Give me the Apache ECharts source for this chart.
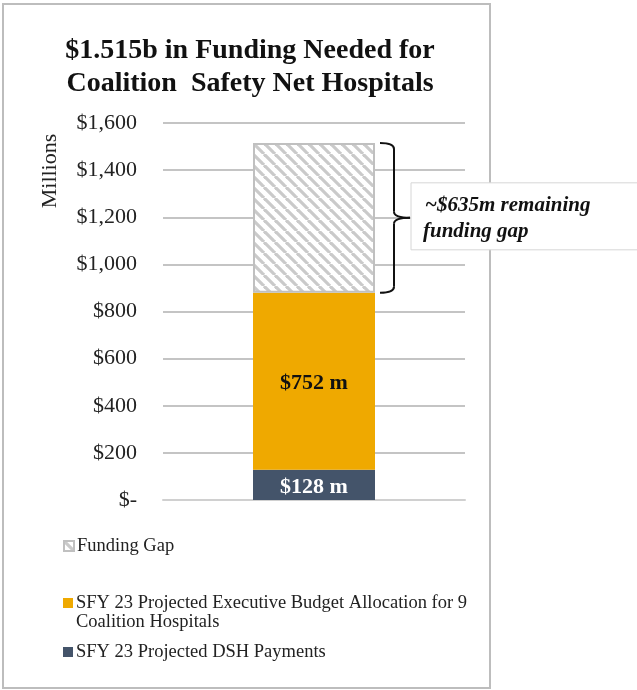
<!DOCTYPE html>
<html><head><meta charset="utf-8">
<script src="https://cdn.jsdelivr.net/npm/echarts@6/dist/echarts.min.js"></script>
<style>html,body{margin:0;padding:0;background:#fff}#c{width:637px;height:690px}</style>
</head><body><div id="c"></div>
<script>
const categories = ['Total'];
const dshValues = [128];
const execValues = [752];
const gapValues = [635];
const yTicks = [0, 200, 400, 600, 800, 1000, 1200, 1400, 1600];
const seriesNames = ['SFY 23 Projected DSH Payments', 'SFY 23 Projected Executive Budget Allocation for 9', 'Funding Gap'];
const execNameLine2 = 'Coalition Hospitals';
const annotationLines = ['~$635m remaining', 'funding gap'];
const titleText = '$1.515b in Funding Needed for\nCoalition  Safety Net Hospitals';

const SERIF = '"Liberation Serif", "Times New Roman", serif';

// hatch pattern
const pc = document.createElement('canvas');
const s = 11; pc.width = s; pc.height = s;
const pctx = pc.getContext('2d');
pctx.fillStyle = '#ffffff'; pctx.fillRect(0, 0, s, s);
pctx.strokeStyle = '#cacaca'; pctx.lineWidth = 3.2;
for (let k = -1; k <= 1; k++) { pctx.beginPath(); pctx.moveTo(k * s, 0); pctx.lineTo(k * s + s, s); pctx.stroke(); }
const hatch = { image: pc, repeat: 'repeat' };

const chart = echarts.init(document.getElementById('c'), null, { renderer: 'canvas' });
const legendBase = { orient: 'vertical', left: 58, itemWidth: 10, itemHeight: 10, itemGap: 0, icon: 'rect',
  textStyle: { fontFamily: SERIF, fontSize: 18.5, color: '#222', lineHeight: 20, padding: [0, 0, 0, -2] } };

chart.setOption({
  animation: false,
  backgroundColor: '#fff',
  title: { text: titleText, left: 245, textAlign: 'center', top: 29,
    textStyle: { fontFamily: SERIF, fontWeight: 'bold', fontSize: 28, lineHeight: 33, color: '#111' } },
  legend: [
    Object.assign({}, legendBase, { top: 531, data: [seriesNames[2]] }),
    Object.assign({}, legendBase, { top: 588, data: [seriesNames[1]] }),
    Object.assign({}, legendBase, { top: 637, data: [seriesNames[0]] })
  ],
  grid: { left: 163, right: 172, top: 123, bottom: 190 },
  xAxis: { type: 'category', data: categories, axisLabel: { show: false }, axisTick: { show: false },
    axisLine: { show: true, lineStyle: { color: '#d0d0d0', width: 2 } } },
  yAxis: { type: 'value', min: yTicks[0], max: yTicks[yTicks.length - 1], interval: 200,
    axisLine: { show: false }, axisTick: { show: false },
    axisLabel: { margin: 26, fontFamily: SERIF, fontSize: 22, color: '#222',
      formatter: v => v === 0 ? '$-' : '$' + v.toLocaleString('en-US') },
    splitLine: { lineStyle: { color: '#c4c4c4', width: 2 } } },
  series: [
    { name: seriesNames[0], type: 'bar', stack: 't', data: dshValues, barWidth: 122,
      itemStyle: { color: '#44546A' },
      label: { show: true, position: 'inside', formatter: p => '$' + p.value + ' m', color: '#fff',
        fontFamily: SERIF, fontWeight: 'bold', fontSize: 22, offset: [0, 2] } },
    { name: seriesNames[1], type: 'bar', stack: 't', data: execValues, barWidth: 122,
      itemStyle: { color: '#EFA900' },
      label: { show: true, position: 'inside', formatter: p => '$' + p.value + ' m', color: '#111',
        fontFamily: SERIF, fontWeight: 'bold', fontSize: 22, offset: [0, 2] } },
    { name: seriesNames[2], type: 'bar', stack: 't', data: gapValues, barWidth: 122,
      itemStyle: { color: hatch, borderColor: '#c0c0c0', borderWidth: 2 } }
  ]
});

const total = dshValues[0] + execValues[0] + gapValues[0];
const base = dshValues[0] + execValues[0];
const yTop = chart.convertToPixel({ yAxisIndex: 0 }, total);
const yBot = chart.convertToPixel({ yAxisIndex: 0 }, base);
const xc = chart.convertToPixel({ xAxisIndex: 0 }, categories[0]);
const x0 = xc + 66, x1 = xc + 80, x2 = xc + 96;
const ym = (yTop + yBot) / 2;
const r = 6;
const braceStyle = { fill: 'none', stroke: '#111', lineWidth: 2 };
const braceParts = [
  { type: 'bezierCurve', shape: { x1: x0, y1: yTop, cpx1: x1, cpy1: yTop, x2: x1, y2: yTop + r } },
  { type: 'line', shape: { x1: x1, y1: yTop + r, x2: x1, y2: ym - r } },
  { type: 'bezierCurve', shape: { x1: x1, y1: ym - r, cpx1: x1, cpy1: ym, x2: x2, y2: ym } },
  { type: 'bezierCurve', shape: { x1: x2, y1: ym, cpx1: x1, cpy1: ym, x2: x1, y2: ym + r } },
  { type: 'line', shape: { x1: x1, y1: ym + r, x2: x1, y2: yBot - r } },
  { type: 'bezierCurve', shape: { x1: x1, y1: yBot - r, cpx1: x1, cpy1: yBot, x2: x0, y2: yBot } }
].map(p => Object.assign(p, { style: braceStyle, z: 101 }));

chart.setOption({
  graphic: [
    { type: 'rect', shape: { x: 3, y: 4, width: 487, height: 684 }, style: { fill: 'none', stroke: '#bdbdbd', lineWidth: 2 }, z: 100 },
    ...braceParts,
    { type: 'rect', shape: { x: x2 + 1, y: ym - 35, width: 240, height: 67 }, style: { fill: '#fff', stroke: '#d6d6d6', lineWidth: 1 }, z: 102 },
    { type: 'text', x: x2 + 15, y: ym - 12, style: { text: annotationLines[0], fontFamily: SERIF, fontStyle: 'italic', fontWeight: 'bold', fontSize: 21, fill: '#111', verticalAlign: 'middle' }, z: 103 },
    { type: 'text', x: x2 + 13, y: ym + 14, style: { text: annotationLines[1], fontFamily: SERIF, fontStyle: 'italic', fontWeight: 'bold', fontSize: 21, fill: '#111', verticalAlign: 'middle' }, z: 103 },
    { type: 'text', x: 50, y: 171, rotation: Math.PI / 2, style: { text: 'Millions', fontFamily: SERIF, fontSize: 22, fill: '#222', align: 'center', verticalAlign: 'middle' }, z: 103 },
    { type: 'text', x: 76, y: 622, style: { text: execNameLine2, fontFamily: SERIF, fontSize: 18.5, fill: '#222', verticalAlign: 'middle' }, z: 103 }
  ]
});
</script>
</body></html>
